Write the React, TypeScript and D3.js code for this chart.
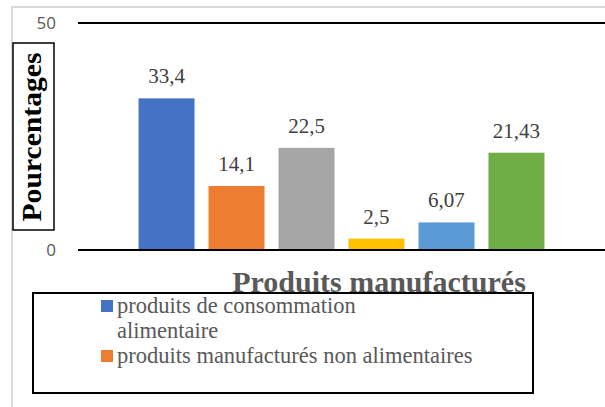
import { useRef, useEffect } from "react";
import * as d3 from "d3";

// bar values (one bar per series, single category)
const values = [33.4, 14.1, 22.5, 2.5, 6.07, 21.43];
const valueLabels = ["33,4", "14,1", "22,5", "2,5", "6,07", "21,43"];
const colors = ["#4472C4", "#ED7D31", "#A5A5A5", "#FFC000", "#5B9BD5", "#70AD47"];
// only the first two entries are visible in the legend
const legendLabels = [
  ["produits de consommation", "alimentaire"],
  ["produits manufacturés non alimentaires"],
];
const yTicks = [0, 50];
const xTitle = "Produits manufacturés";
const yTitle = "Pourcentages";

const W = 605;
const H = 407;
const SERIF = "'Liberation Serif', 'Times New Roman', 'DejaVu Serif', serif";
const SANS = "'Open Sans', 'Liberation Sans', Arial, sans-serif";

export default function App() {
  const svgRef = useRef<SVGSVGElement | null>(null);

  useEffect(() => {
    const svg = d3.select(svgRef.current);
    svg.selectAll("*").remove();

    svg.append("rect").attr("width", W).attr("height", H).attr("fill", "#fff");

    // light outer frame (top + left visible)
    svg
      .append("path")
      .attr("d", `M12,${H} L12,7 L${W},7`)
      .attr("fill", "none")
      .attr("stroke", "#d9d9d9")
      .attr("stroke-width", 2);

    const x = d3
      .scaleBand<number>()
      .domain(d3.range(values.length))
      .range([78, W])
      .paddingInner(0.2)
      .paddingOuter(0.865);

    const y = d3.scaleLinear().domain([0, 50]).range([250, 23]);

    // grid lines
    svg
      .append("g")
      .selectAll("line")
      .data(yTicks)
      .join("line")
      .attr("x1", 78)
      .attr("x2", W)
      .attr("y1", (d) => y(d))
      .attr("y2", (d) => y(d))
      .attr("stroke", "#000")
      .attr("stroke-width", 2);

    // tick labels
    svg
      .append("g")
      .selectAll("text")
      .data(yTicks)
      .join("text")
      .attr("x", 56)
      .attr("y", (d) => y(d))
      .attr("dy", "0.36em")
      .attr("text-anchor", "end")
      .style("font-family", SANS)
      .style("font-size", "17px")
      .attr("fill", "#595959")
      .text((d) => d);

    // bars
    svg
      .append("g")
      .selectAll("rect")
      .data(values)
      .join("rect")
      .attr("x", (_, i) => x(i)!)
      .attr("width", x.bandwidth())
      .attr("y", (d) => y(d))
      .attr("height", (d) => y(0) - y(d) - 1)
      .attr("fill", (_, i) => colors[i]);

    // value labels
    svg
      .append("g")
      .selectAll("text")
      .data(values)
      .join("text")
      .attr("x", (_, i) => x(i)! + x.bandwidth() / 2)
      .attr("y", (d) => y(d) - 15)
      .attr("text-anchor", "middle")
      .style("font-family", SERIF)
      .style("font-size", "21px")
      .attr("fill", "#404040")
      .text((_, i) => valueLabels[i]);

    // y title with box
    svg
      .append("rect")
      .attr("x", 13)
      .attr("y", 43)
      .attr("width", 41)
      .attr("height", 187)
      .attr("fill", "#fff")
      .attr("stroke", "#000")
      .attr("stroke-width", 1.5);

    svg
      .append("text")
      .attr("transform", "translate(41,137) rotate(-90)")
      .attr("text-anchor", "middle")
      .style("font-family", SERIF)
      .style("font-weight", "bold")
      .style("font-size", "27px")
      .attr("textLength", 169)
      .attr("lengthAdjust", "spacingAndGlyphs")
      .attr("fill", "#000")
      .text(yTitle);

    // x title (its bottom is tucked under the legend box, as in the source)
    svg
      .append("text")
      .attr("x", 379)
      .attr("y", 292)
      .attr("text-anchor", "middle")
      .style("font-family", SERIF)
      .style("font-weight", "bold")
      .style("font-size", "30px")
      .attr("fill", "#595959")
      .text(xTitle);

    // legend box
    svg
      .append("rect")
      .attr("x", 33)
      .attr("y", 293)
      .attr("width", 500)
      .attr("height", 100)
      .attr("fill", "#fff")
      .attr("stroke", "#000")
      .attr("stroke-width", 2);

    const lg = svg.append("g");
    let lineY = 313;
    legendLabels.forEach((lines, i) => {
      lg.append("rect")
        .attr("x", 101)
        .attr("y", lineY - 13)
        .attr("width", 12)
        .attr("height", 12)
        .attr("fill", colors[i]);
      lines.forEach((t) => {
        lg.append("text")
          .attr("x", 117)
          .attr("y", lineY)
          .style("font-family", SERIF)
          .style("font-size", "22.5px")
          .attr("fill", "#595959")
          .text(t);
        lineY += 25;
      });
    });
  }, []);

  return (
    <svg
      ref={svgRef}
      width={W}
      height={H}
      style={{ position: "absolute", left: 0, top: 0 }}
    />
  );
}
